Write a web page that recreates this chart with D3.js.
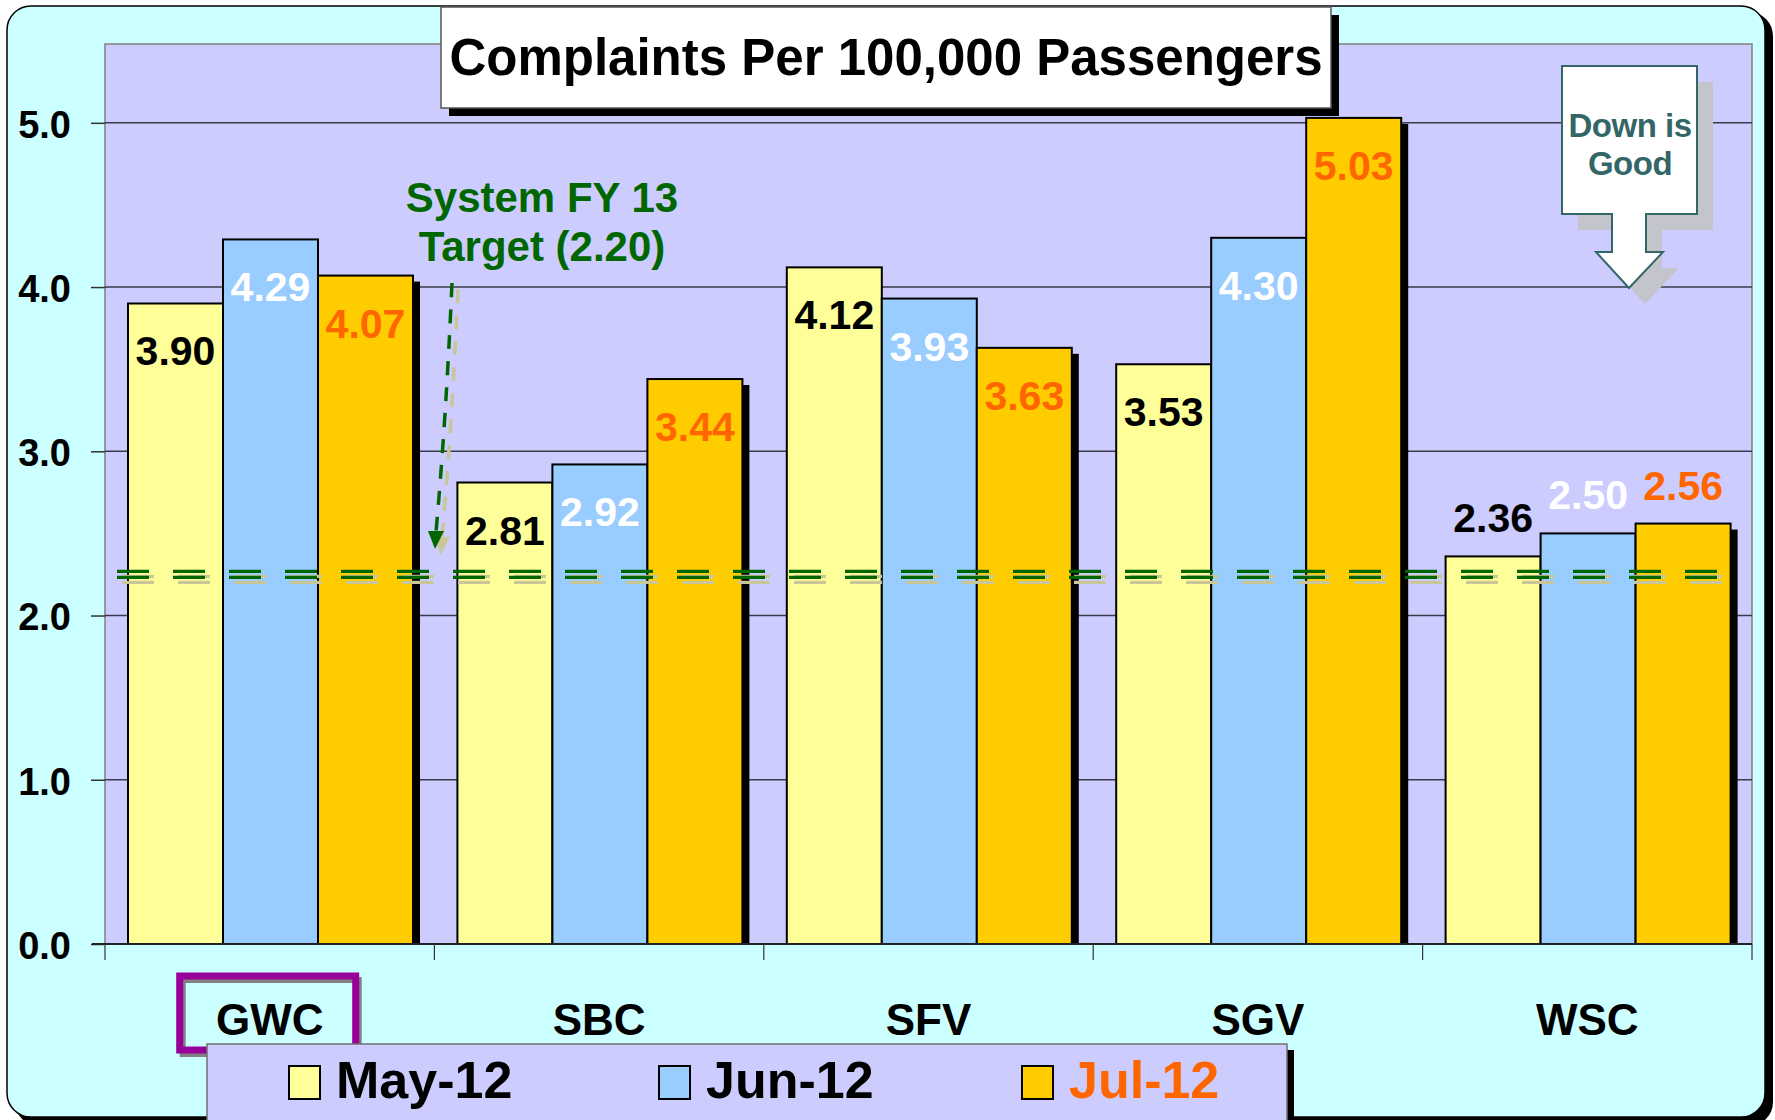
<!DOCTYPE html>
<html>
<head>
<meta charset="utf-8">
<script src="https://cdn.jsdelivr.net/npm/d3@7"></script>
<style>
  html, body { margin: 0; padding: 0; background: #ffffff; }
  svg { display: block; }
  text { font-family: "Liberation Sans", Arial, sans-serif; font-weight: bold; }
</style>
</head>
<body>
<div id="chart"></div>
<script>
const categories = ["GWC", "SBC", "SFV", "SGV", "WSC"];
const seriesNames = ["May-12", "Jun-12", "Jul-12"];
const may12 = [3.90, 2.81, 4.12, 3.53, 2.36];
const jun12 = [4.29, 2.92, 3.93, 4.30, 2.50];
const jul12 = [4.07, 3.44, 3.63, 5.03, 2.56];
const yTicks = [0, 1, 2, 3, 4, 5];
const targetLine = 2.25;   // where the dashed line sits in the picture
const targetText = ["System FY 13", "Target (2.20)"];

const W = 1775, H = 1120;
const fills = ["#FFFF99", "#99CCFF", "#FFCC00"];
const labelColors = ["#000000", "#FFFFFF", "#FF6600"];
const green = "#006600", beige = "#C9C79A";

const svg = d3.select("#chart").append("svg")
    .attr("width", W).attr("height", H);

// outer rounded panel with black shadow
svg.append("rect").attr("x", 15).attr("y", 12).attr("width", 1758).attr("height", 1114)
    .attr("rx", 24).attr("fill", "#000");
svg.append("rect").attr("x", 7).attr("y", 6).attr("width", 1758).attr("height", 1111)
    .attr("rx", 24).attr("fill", "#CCFFFF").attr("stroke", "#000").attr("stroke-width", 1.5);

const x0 = d3.scaleBand().domain(categories).range([105, 1752]);
const x1 = d3.scaleBand().domain(seriesNames).range([23, 23 + 3 * 95]);
const y = d3.scaleLinear().domain([0, 5.48]).range([944, 44]);

// plot area
svg.append("rect")
    .attr("x", x0.range()[0]).attr("y", y(5.48))
    .attr("width", x0.range()[1] - x0.range()[0]).attr("height", y(0) - y(5.48))
    .attr("fill", "#CCCCFF").attr("stroke", "#808080").attr("stroke-width", 1.5);

// gridlines
svg.append("g").selectAll("line").data(yTicks.filter(d => d > 0)).join("line")
    .attr("x1", x0.range()[0]).attr("x2", x0.range()[1])
    .attr("y1", d => y(d)).attr("y2", d => y(d))
    .attr("stroke", "#3a3a4a").attr("stroke-width", 1.5);

// y axis
const yAxis = svg.append("g").attr("transform", `translate(${x0.range()[0]},0)`)
    .call(d3.axisLeft(y).tickValues(yTicks).tickFormat(d3.format(".1f")).tickSize(14).tickPadding(20));
yAxis.select(".domain").remove();
yAxis.selectAll(".tick line").attr("stroke", "#333").attr("stroke-width", 1.5);
yAxis.selectAll(".tick text").attr("font-size", 38).attr("fill", "#000")
    .attr("font-family", "'Liberation Sans', Arial, sans-serif").attr("font-weight", "bold")
    .attr("dy", "0.38em");

// bars
const series = [may12, jun12, jul12];
const rows = categories.map((c, i) => seriesNames.map((s, j) => ({cat: c, key: s, j, value: series[j][i]})));

const groups = svg.append("g").selectAll("g").data(rows).join("g")
    .attr("transform", (d, i) => `translate(${x0(categories[i])},0)`);

// shadow behind the last series
groups.selectAll("rect.shadow").data(d => d.filter(e => e.j === 2)).join("rect")
    .attr("class", "shadow")
    .attr("x", d => x1(d.key) + 7).attr("y", d => y(d.value) + 6)
    .attr("width", x1.bandwidth()).attr("height", d => y(0) - y(d.value) - 6)
    .attr("fill", "#000");

groups.selectAll("rect.bar").data(d => d).join("rect")
    .attr("class", "bar")
    .attr("x", d => x1(d.key)).attr("y", d => y(d.value))
    .attr("width", x1.bandwidth()).attr("height", d => y(0) - y(d.value))
    .attr("fill", d => fills[d.j]).attr("stroke", "#000").attr("stroke-width", 2);

// x axis
svg.append("line").attr("x1", 92).attr("x2", x0.range()[1])
    .attr("y1", y(0)).attr("y2", y(0)).attr("stroke", "#222").attr("stroke-width", 2);
svg.append("g").selectAll("line").data(categories.map(c => x0(c)).concat([x0.range()[1]])).join("line")
    .attr("x1", d => d).attr("x2", d => d).attr("y1", y(0)).attr("y2", y(0) + 16)
    .attr("stroke", "#333").attr("stroke-width", 1.2);

// target line (double dashed with beige shadow)
const tl = svg.append("g");
[[5, 5, beige], [5, 11, beige], [0, 0, green], [0, 6, green]].forEach(([dx, dy, col]) => {
  tl.append("line")
    .attr("x1", 117 + dx).attr("x2", 1729 + dx)
    .attr("y1", y(targetLine) - 3 + dy).attr("y2", y(targetLine) - 3 + dy)
    .attr("stroke", col).attr("stroke-width", 3.2)
    .attr("stroke-dasharray", "32 24");
});

// value labels
groups.selectAll("text.val").data(d => d).join("text")
    .attr("class", "val")
    .attr("x", d => x1(d.key) + x1.bandwidth() / 2)
    .attr("y", d => d.cat === "WSC" ? y(d.value) - 24 : y(d.value) + 62)
    .attr("text-anchor", "middle").attr("font-size", 41)
    .attr("fill", d => labelColors[d.j])
    .text(d => d3.format(".2f")(d.value));

// category labels
svg.append("g").selectAll("text").data(categories).join("text")
    .attr("x", d => x0(d) + x0.bandwidth() / 2).attr("y", 1035)
    .attr("text-anchor", "middle").attr("font-size", 44).attr("fill", "#000")
    .text(d => d);

// highlight box around GWC
const hx = x0("GWC") + x0.bandwidth() / 2;
svg.append("rect").attr("x", hx - 87).attr("y", 980).attr("width", 176).attr("height", 74)
    .attr("fill", "none").attr("stroke", "#808080").attr("stroke-width", 6);
svg.append("rect").attr("x", hx - 90).attr("y", 976).attr("width", 176).attr("height", 74)
    .attr("fill", "none").attr("stroke", "#990099").attr("stroke-width", 7);

// title
svg.append("rect").attr("x", 449).attr("y", 15).attr("width", 890).attr("height", 101).attr("fill", "#000");
svg.append("rect").attr("x", 441).attr("y", 7).attr("width", 890).attr("height", 101)
    .attr("fill", "#fff").attr("stroke", "#555").attr("stroke-width", 1.5);
svg.append("text").attr("x", 886).attr("y", 75).attr("text-anchor", "middle")
    .attr("font-size", 51).attr("fill", "#000")
    .text("Complaints Per 100,000 Passengers");

// target annotation
svg.append("g").selectAll("text").data(targetText).join("text")
    .attr("x", 542).attr("y", (d, i) => 212 + i * 49)
    .attr("text-anchor", "middle").attr("font-size", 42).attr("fill", green)
    .text(d => d);

const ann = svg.append("g");
[[6, 6, beige], [0, 0, green]].forEach(([dx, dy, col]) => {
  ann.append("path")
    .attr("d", `M${452 + dx},${283 + dy} Q${446 + dx},${420 + dy} ${436 + dx},${532 + dy}`)
    .attr("fill", "none").attr("stroke", col).attr("stroke-width", 3.5)
    .attr("stroke-dasharray", "14 12");
  ann.append("path")
    .attr("d", `M${428 + dx},${531 + dy} L${444 + dx},${531 + dy} L${435 + dx},${549 + dy} Z`)
    .attr("fill", col);
});

// "Down is Good" arrow callout
const arrowPts = [[0, 0], [135, 0], [135, 148], [84, 148], [84, 186], [101, 186], [67, 222], [34, 186], [50, 186], [50, 148], [0, 148]];
const arrowPath = d3.line()(arrowPts) + "Z";
svg.append("path").attr("d", arrowPath).attr("transform", "translate(1578,82)").attr("fill", "#C4C4CC");
svg.append("path").attr("d", arrowPath).attr("transform", "translate(1562,66)")
    .attr("fill", "#fff").attr("stroke", "#336666").attr("stroke-width", 2);
svg.append("g").selectAll("text").data(["Down is", "Good"]).join("text")
    .attr("x", 1630).attr("y", (d, i) => 137 + i * 38)
    .attr("text-anchor", "middle").attr("font-size", 33).attr("fill", "#336666")
    .attr("font-family", "'DejaVu Sans', Verdana, sans-serif")
    .attr("letter-spacing", -0.5)
    .text(d => d);

// legend
svg.append("rect").attr("x", 214).attr("y", 1050).attr("width", 1080).attr("height", 80).attr("fill", "#000");
svg.append("rect").attr("x", 207).attr("y", 1044).attr("width", 1080).attr("height", 80)
    .attr("fill", "#CCCCFF").attr("stroke", "#707070").attr("stroke-width", 1.5);
const legX = [289, 659, 1022];
const leg = svg.append("g").selectAll("g").data(seriesNames).join("g")
    .attr("transform", (d, i) => `translate(${legX[i]},1066)`);
leg.append("rect").attr("width", 31).attr("height", 33)
    .attr("fill", (d, i) => fills[i]).attr("stroke", "#000").attr("stroke-width", 2);
leg.append("text").attr("x", 47).attr("y", 32).attr("font-size", 52)
    .attr("fill", (d, i) => i === 2 ? "#FF6600" : "#000")
    .text(d => d);
</script>
</body>
</html>
